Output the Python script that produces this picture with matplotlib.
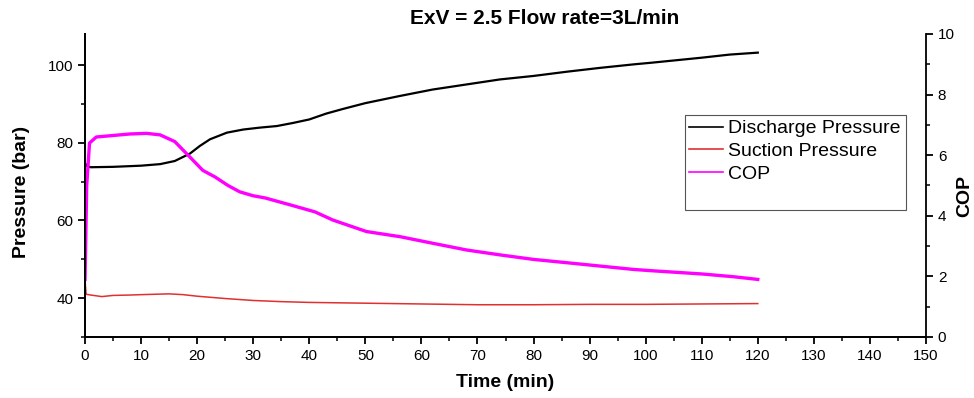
import matplotlib
matplotlib.use("Agg")
import matplotlib.pyplot as plt
from matplotlib.lines import Line2D
from matplotlib.ticker import MultipleLocator

plt.rcParams['font.family'] = ['Liberation Sans', 'DejaVu Sans']

# values (time in min)
t_dis = [0, 0.3, 1, 5, 10, 13.4, 16, 18.7, 20.5, 22.3, 25.3, 28.2, 31.2, 34.2, 37.1,
         40, 43, 46, 50, 56, 62, 68, 74, 80, 86, 92, 98, 101, 110, 115, 120]
p_dis = [74.8, 74.0, 73.7, 73.8, 74.1, 74.5, 75.3, 77.2, 79.2, 80.9, 82.6, 83.4, 83.9, 84.3, 85.1,
         86.0, 87.5, 88.7, 90.2, 92.0, 93.7, 95.0, 96.3, 97.2, 98.3, 99.3, 100.2, 100.6, 101.9, 102.7, 103.2]

t_suc = [0, 0.2, 1, 3, 5, 8, 10, 12.5, 15, 17.5, 20, 25, 30, 35, 40, 50, 60, 70, 80, 90, 100, 110, 120]
p_suc = [44.5, 41.0, 40.8, 40.4, 40.7, 40.8, 40.9, 41.0, 41.1, 40.9, 40.5, 39.9, 39.4, 39.1, 38.9,
         38.7, 38.5, 38.3, 38.3, 38.4, 38.4, 38.5, 38.6]

t_cop = [0, 0.3, 0.8, 2, 5, 8, 11, 13.4, 16, 18.7, 21, 23.2, 25.5, 27.6, 30, 32.1, 36.6, 41,
         44.2, 50.2, 56.2, 62.1, 68.1, 74, 80, 86, 91.9, 97.8, 100.8, 110, 115.6, 120]
cop = [1.9, 5.0, 6.4, 6.6, 6.65, 6.7, 6.72, 6.67, 6.45, 5.94, 5.5, 5.28, 5.0, 4.79, 4.66, 4.59, 4.36, 4.13,
       3.86, 3.48, 3.31, 3.09, 2.87, 2.71, 2.56, 2.45, 2.34, 2.23, 2.19, 2.08, 1.99, 1.90]

fig = plt.figure(figsize=(9.74, 3.98), dpi=100)
ax = fig.add_axes([0.0873, 0.1533, 0.8634, 0.7613])
ax2 = ax.twinx()

l1, = ax.plot(t_dis, p_dis, color='black', lw=1.6, label='Discharge Pressure')
l2, = ax.plot(t_suc, p_suc, color='#e0302f', lw=1.1, label='Suction Pressure')
l3, = ax2.plot(t_cop, cop, color='#ff00ff', lw=2.4, label='COP')

ax.set_xlim(0, 150)
ax.set_ylim(30, 108)
ax2.set_ylim(0, 10)

ax.xaxis.set_major_locator(MultipleLocator(10))
ax.xaxis.set_minor_locator(MultipleLocator(5))
ax.yaxis.set_major_locator(MultipleLocator(20))
ax.yaxis.set_minor_locator(MultipleLocator(10))
ax2.yaxis.set_major_locator(MultipleLocator(2))
ax2.yaxis.set_minor_locator(MultipleLocator(1))

for a in (ax, ax2):
    a.spines['top'].set_visible(False)
    for s in a.spines.values():
        s.set_linewidth(1.3)
    a.tick_params(which='major', length=5, width=1.3, labelsize=11, direction='out')
    a.tick_params(which='minor', length=3, width=1.1, direction='out')
ax.spines['right'].set_visible(False)

ax.set_xlabel('Time (min)', fontsize=14, fontweight='bold', labelpad=8)
ax.set_ylabel('Pressure (bar)', fontsize=14, fontweight='bold', labelpad=13)
ax.yaxis.label.set_y(0.48)
ax2.set_ylabel('COP', fontsize=14, fontweight='bold', labelpad=1)
ax2.yaxis.label.set_y(0.465)
ax.set_title('ExV = 2.5 Flow rate=3L/min', fontsize=15, fontweight='bold', pad=7, x=0.547)

blank = Line2D([], [], color='none', label=' ')
leg = ax.legend(handles=[l1, l2, l3, blank], loc='upper left', bbox_to_anchor=(0.713, 0.733),
                fontsize=14, frameon=True, fancybox=False, framealpha=1, edgecolor='#555555',
                handlelength=1.7, handletextpad=0.3, labelspacing=0.26, borderpad=0.25,
                borderaxespad=0)
leg.get_frame().set_linewidth(0.8)
for h in leg.get_lines():
    h.set_linewidth(1.2)

fig.savefig('out.png', dpi=100)
